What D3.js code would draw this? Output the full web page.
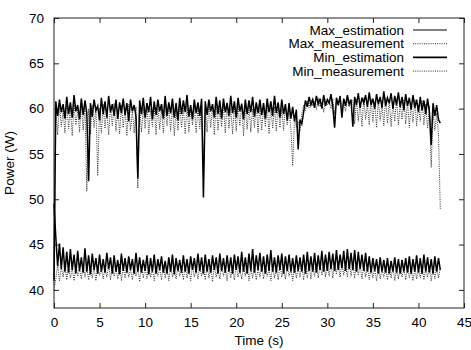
<!DOCTYPE html>
<html>
<head>
<meta charset="utf-8">
<script src="https://cdn.jsdelivr.net/npm/d3@7/dist/d3.min.js"></script>
<style>
body { margin: 0; background: #fff; }
text { font-family: "Liberation Sans", Arial, Helvetica, sans-serif; font-size: 13.5px; fill: #000; }
.line { fill: none; }
</style>
</head>
<body>
<div id="chart"></div>
<script>
// samples every 0.2 s
var step = 0.2;

var max_estimation = [41.0,
	60.8, 59.2, 61.0, 59.6, 60.5, 58.9, 61.3, 59.4, 60.7, 59.0, 61.5, 59.7, 60.4, 58.8, 61.1, 59.3, 60.9, 59.5,
	52.0,
	60.6, 59.1, 61.0, 59.8, 60.3, 58.7, 61.2, 59.4, 60.8, 59.0, 61.4, 59.6, 60.5, 59.2, 61.0, 58.9, 60.7, 59.5, 61.1, 59.3, 60.6, 58.6, 61.0, 59.7, 60.4, 59.1,
	52.3,
	60.9, 59.4, 61.2, 59.0, 60.6, 59.6, 61.3, 58.8, 60.8, 59.3, 61.0, 59.7, 60.5, 58.9, 61.4, 59.2, 60.7, 59.5, 61.1, 59.0,
	60.6, 58.7, 61.2, 59.4, 60.9, 59.6, 61.5, 59.1, 60.4, 58.8, 61.0, 59.5, 60.7, 59.2, 61.1,
	50.2,
	60.8, 59.3, 61.0, 59.7, 60.5, 59.0, 61.3, 59.4, 60.9, 58.9, 61.1, 59.6, 60.6, 59.2, 61.4, 59.5, 60.8, 59.0, 61.2, 59.7,
	60.5, 58.8, 61.0, 59.4, 60.9, 59.6, 61.3, 59.1, 60.7, 59.5, 61.0, 59.3, 60.6, 58.9, 61.1, 59.6, 60.8, 59.2, 61.4, 59.5,
	60.7, 59.0, 61.0, 59.4, 60.5, 58.7, 60.6, 58.9, 60.2, 58.6, 59.9,
	55.5,
	58.8, 58.3, 59.6, 60.9, 60.2, 61.3, 60.4, 61.0, 60.1, 61.4, 60.5, 61.1, 60.0, 61.5, 60.3, 61.0, 60.6, 61.6, 60.2, 57.9,
	61.2, 60.4, 61.4, 59.0, 61.1, 60.3, 61.5, 60.5, 61.0, 58.0, 61.3, 60.4, 61.7, 60.1, 61.2, 60.6, 61.5, 60.2, 61.8, 60.4,
	61.1, 60.0, 61.6, 60.5, 61.3, 60.1, 61.9, 60.3, 61.2, 60.6, 61.7, 60.0, 61.4, 60.4, 61.8, 60.2, 61.3, 59.8, 61.6, 60.3,
	61.2, 59.9, 61.5, 60.1, 61.0, 59.6, 61.3, 59.8, 60.9, 59.4, 61.1, 59.7, 56.0, 60.6, 59.2, 60.4, 58.8, 58.4];

var max_measurement = [40.5,
	60.2, 57.1, 60.5, 58.0, 59.8, 57.3, 60.6, 57.8, 60.1, 57.0, 60.4, 58.2, 59.9, 57.4, 60.7, 57.6, 60.3,
	50.9,
	60.0, 57.2, 60.4, 57.9, 60.2,
	52.6,
	60.1, 57.3, 60.5, 57.8, 59.9, 57.1, 60.3, 58.1, 60.6, 57.5, 60.0, 57.2, 60.4, 57.9, 60.1, 57.0, 60.5, 57.6, 59.8, 57.3, 60.2,
	51.2,
	60.4, 57.4, 60.1, 57.8, 60.6, 57.2, 59.9, 58.0, 60.3, 57.1, 60.5, 57.7, 60.0, 57.3, 60.4, 58.1, 60.2, 57.5, 60.6, 57.0,
	59.8, 57.6, 60.3, 57.9, 60.1, 57.2, 60.5, 57.4, 60.0, 58.2, 60.4, 57.3, 60.2, 57.8, 60.6,
	53.3,
	60.1, 57.4, 60.5, 57.9, 60.2, 57.1, 60.6, 57.6, 60.0, 58.0, 60.4, 57.3, 60.7, 57.8, 60.1, 57.2, 60.5, 57.5, 60.3, 58.1,
	60.6, 57.0, 60.2, 57.7, 60.4, 57.4, 60.0, 57.9, 60.6, 57.3, 60.3, 57.6, 60.1, 58.0, 60.5, 57.2, 60.4, 57.8, 60.2, 57.5,
	60.6, 57.9, 60.0, 57.6, 60.3, 58.2, 59.9, 57.8,
	53.7,
	59.2, 57.9, 58.6, 57.5, 59.4,
	60.4, 59.8, 60.9, 60.1, 61.0, 60.3, 60.8, 59.9, 61.2, 60.2, 60.7, 59.6, 61.0, 60.4, 60.9, 60.0, 61.1, 59.4, 60.8, 60.3,
	61.2, 60.1, 60.6, 59.7, 61.0, 60.2, 60.7,
	60.9, 58.3, 61.0, 58.6, 60.7, 58.0, 61.2, 58.8, 60.5, 58.2, 61.1, 58.5, 60.8, 57.9, 61.0, 58.7, 60.6, 58.1, 61.2, 58.4,
	60.9, 58.0, 60.7, 58.6, 61.1, 58.2, 60.5, 58.8, 61.0, 58.3, 60.8, 57.9, 60.6, 58.5, 61.0, 58.1, 60.4, 58.6, 60.9, 58.2,
	60.5, 57.8, 60.3,
	53.5,
	59.8, 57.6, 59.5, 57.2,
	48.9];

var min_estimation = [49.5,
	45.8, 42.6, 45.1, 42.3, 44.7, 42.0, 44.2, 41.9, 44.5, 42.2,
	43.9, 41.8, 44.3, 42.1, 43.6, 41.9, 44.6, 42.0, 43.8, 41.7,
	44.0, 42.2, 43.5, 41.8, 43.9, 42.0, 43.4, 41.9, 44.1, 42.3,
	43.6, 41.8, 43.8, 42.0, 43.3, 41.7, 44.0, 42.1, 43.5, 41.9,
	43.7, 42.2, 43.4, 41.8, 44.1, 42.0, 43.6, 41.9, 43.3, 42.1,
	43.8, 41.7, 43.5, 42.0, 43.9, 41.8, 43.4, 42.2, 43.7, 41.9,
	43.2, 41.8, 43.6, 42.0, 43.9, 41.7, 43.5, 42.1, 43.3, 41.9,
	43.8, 42.0, 43.4, 41.8, 43.7, 42.2, 43.5, 41.9, 44.0, 42.1,
	43.6, 41.8, 43.9, 42.0, 43.4, 41.9, 43.8, 42.2, 43.6, 41.8,
	44.0, 42.1, 43.5, 41.9, 43.8, 42.0, 43.6, 41.8, 43.9, 42.2,
	43.7, 41.9, 44.2, 42.0, 43.6, 41.8, 44.0, 42.1, 44.5, 41.9,
	43.8, 42.2, 44.1, 42.0, 43.7, 41.8, 43.9, 42.1, 44.4, 42.0,
	43.6, 41.9, 43.8, 42.2, 44.0, 41.8, 43.7, 42.1, 43.9, 42.0,
	43.5, 41.9, 43.8, 42.1, 43.6, 42.0, 43.9, 41.8, 44.2, 42.1,
	43.7, 42.0, 44.1, 41.9, 43.8, 42.2, 44.3, 42.0, 43.9, 42.1,
	44.2, 42.3, 44.0, 42.1, 44.4, 42.2, 43.9, 42.4, 44.3, 42.1,
	44.5, 42.3, 44.1, 42.2, 44.4, 42.0, 44.2, 42.3, 43.9, 42.1,
	44.1, 42.0, 43.7, 41.9, 43.5, 42.1, 43.4, 41.8, 43.6, 42.0,
	43.3, 41.9, 43.5, 41.8, 43.2, 42.0, 43.6, 41.9, 43.4, 41.8,
	43.3, 42.0, 43.5, 41.9, 43.7, 41.8, 43.4, 42.0, 43.8, 41.9,
	43.5, 41.8, 43.9, 42.0, 43.6, 41.9, 43.4, 41.8, 43.7, 42.0,
	43.5, 42.2];

var min_measurement = [40.0,
	41.2, 42.8, 41.0, 42.5, 41.4, 42.9, 41.1, 42.6, 41.3, 42.4,
	41.0, 42.7, 41.5, 42.3, 41.2, 42.8, 41.4, 42.5, 41.1, 42.6,
	41.3, 42.4, 41.0, 42.7, 41.6, 42.3, 41.2, 42.5, 41.4, 42.8,
	41.1, 42.6, 41.5, 42.4, 41.2, 42.9, 41.0, 42.5, 41.3, 42.7,
	41.4, 42.3, 41.1, 42.6, 41.5, 42.4, 40.9, 42.8, 41.3, 42.5,
	41.2, 42.7, 41.4, 42.3, 41.0, 42.6, 41.5, 42.4, 41.1, 42.8,
	41.3, 42.5, 41.0, 42.7, 41.4, 42.3, 41.2, 42.6, 41.5, 42.4,
	41.1, 42.8, 41.3, 42.5, 41.0, 42.7, 41.4, 42.3, 41.2, 42.6,
	41.5, 42.4, 41.1, 42.8, 41.3, 42.5, 40.9, 42.7, 41.4, 42.3,
	41.2, 42.6, 41.5, 42.4, 41.0, 42.8, 41.3, 42.5, 41.1, 42.7,
	41.4, 42.3, 41.2, 42.6, 41.5, 42.9, 41.0, 42.5, 41.3, 42.7,
	41.1, 42.4, 41.4, 42.8, 41.2, 42.6, 41.5, 42.3, 41.0, 42.7,
	41.3, 42.5, 41.1, 42.8, 41.4, 42.4, 41.2, 42.6, 41.5, 42.3,
	41.0, 42.7, 41.3, 42.5, 41.4, 42.8, 41.1, 42.6, 41.3, 42.9,
	41.2, 42.7, 41.5, 43.0, 41.3, 42.8, 41.6, 43.1, 41.4, 42.9,
	41.5, 43.2, 41.3, 42.9, 41.7, 43.1, 41.4, 43.0, 41.6, 42.8,
	41.4, 43.2, 41.5, 42.9, 41.3, 43.0, 41.6, 42.8, 41.2, 42.7,
	41.4, 42.6, 41.1, 42.5, 41.3, 42.4, 41.0, 42.6, 41.2, 42.3,
	41.4, 42.5, 41.1, 42.4, 41.3, 42.6, 41.0, 42.3, 41.2, 42.5,
	41.4, 42.4, 41.1, 42.6, 41.3, 42.3, 41.0, 42.5, 41.2, 42.4,
	41.3, 42.6, 41.1, 42.3, 41.4, 42.5, 41.0, 42.4, 41.2, 42.6,
	41.3, 42.4];

var series_names = ["Max_estimation", "Max_measurement", "Min_estimation", "Min_measurement"];
var x_ticks = [0, 5, 10, 15, 20, 25, 30, 35, 40, 45];
var y_ticks = [40, 45, 50, 55, 60, 65, 70];

var series = [
	{name: series_names[0], values: max_estimation, color: "#000", dash: null, w: 1.5},
	{name: series_names[1], values: max_measurement, color: "#333", dash: "1,1.2", w: 1},
	{name: series_names[2], values: min_estimation, color: "#000", dash: null, w: 1.5},
	{name: series_names[3], values: min_measurement, color: "#333", dash: "1,1.2", w: 1}
];

var margin = {top: 18, right: 7, bottom: 42, left: 54},
	width = 471 - margin.left - margin.right,
	height = 350 - margin.top - margin.bottom;

var x = d3.scaleLinear().domain([0, 45]).range([0, width]),
	y = d3.scaleLinear().domain([38, 70]).range([height, 0]);

var svg = d3.select("#chart")
	.append("svg")
	.attr("width", width + margin.left + margin.right)
	.attr("height", height + margin.top + margin.bottom)
	.append("g")
	.attr("transform", "translate(" + margin.left + "," + margin.top + ")");

// axes, ticks pointing inward like gnuplot
svg.append("g")
	.attr("transform", "translate(0," + height + ")")
	.call(d3.axisBottom(x).tickValues(x_ticks).tickSize(-5).tickSizeOuter(0).tickPadding(9));

svg.append("g")
	.call(d3.axisTop(x).tickValues(x_ticks).tickSize(-5).tickSizeOuter(0).tickFormat(""));

svg.append("g")
	.call(d3.axisLeft(y).tickValues(y_ticks).tickSize(-5).tickSizeOuter(0).tickPadding(10));

svg.append("g")
	.attr("transform", "translate(" + width + ",0)")
	.call(d3.axisRight(y).tickValues(y_ticks).tickSize(-5).tickSizeOuter(0).tickFormat(""));

svg.selectAll(".domain").remove();
svg.selectAll(".tick line").attr("stroke", "#222");
svg.selectAll(".tick text").style("font-size", "13.5px").attr("fill", "#000");

svg.append("rect")
	.attr("width", width)
	.attr("height", height)
	.attr("fill", "none")
	.attr("stroke", "#222")
	.attr("stroke-width", 1);

var line = d3.line()
	.x(function(d, i) { return x(i * step); })
	.y(function(d) { return y(d); });

// draw measurements first so the estimation sits on top
[1, 3, 0, 2].forEach(function(k) {
	var s = series[k];
	svg.append("path")
		.datum(s.values)
		.attr("class", "line")
		.attr("stroke", s.color)
		.attr("stroke-width", s.w)
		.attr("stroke-dasharray", s.dash)
		.attr("d", line);
});

// legend
var legend = svg.append("g")
	.attr("transform", "translate(" + (width - 60) + ",12)");

var row = legend.selectAll("g")
	.data(series)
	.enter().append("g")
	.attr("transform", function(d, i) { return "translate(0," + (i * 13.7) + ")"; });

row.append("text")
	.attr("x", 0)
	.attr("dy", "0.35em")
	.attr("text-anchor", "end")
	.text(function(d) { return d.name; });

row.append("line")
	.attr("x1", 9)
	.attr("x2", 43)
	.attr("stroke", function(d) { return d.color; })
	.attr("stroke-width", function(d, i) { return i == 2 ? 1.6 : 1; })
	.attr("stroke-dasharray", function(d) { return d.dash; });

svg.append("text")
	.attr("x", width / 2)
	.attr("y", height + 37)
	.attr("text-anchor", "middle")
	.text("Time (s)");

svg.append("text")
	.attr("transform", "translate(" + (-40) + "," + (height / 2) + ") rotate(-90)")
	.attr("text-anchor", "middle")
	.text("Power (W)");
</script>
</body>
</html>
